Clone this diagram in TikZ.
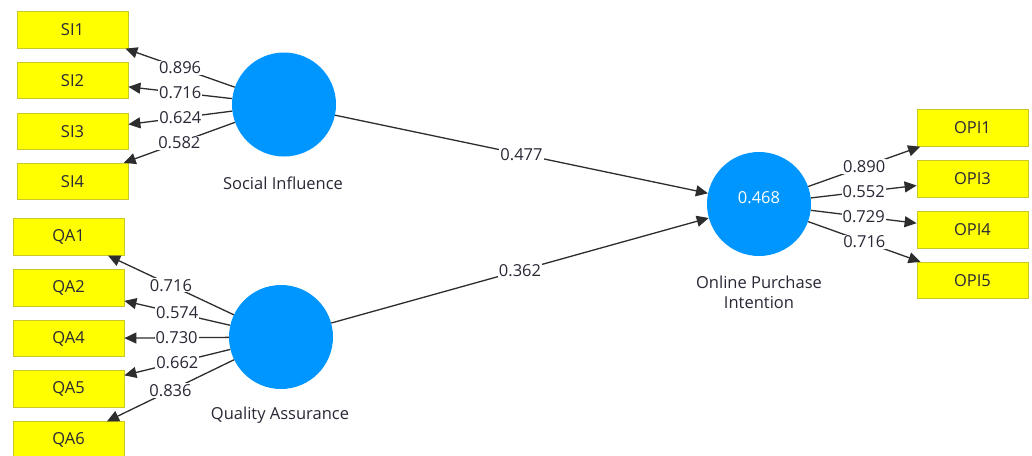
\documentclass[tikz,border=0pt]{standalone}
\usepackage{fontspec}
\setmainfont{Open Sans}
\usetikzlibrary{arrows.meta}
\definecolor{ind}{RGB}{255,255,0}
\definecolor{indborder}{RGB}{200,200,40}
\definecolor{lv}{RGB}{0,150,255}
\definecolor{ln}{RGB}{45,45,45}
\definecolor{txt}{RGB}{40,40,55}
\tikzset{
  indbox/.style={draw=indborder,line width=0.8pt,fill=ind,minimum width=111pt,minimum height=36.5pt,inner sep=0pt,font=\fontsize{16.5}{19}\selectfont,text=txt},
  lvcirc/.style={circle,fill=lv,draw=none,minimum size=104pt,inner sep=0pt},
  lvval/.style={font=\fontsize{16.5}{19}\selectfont,text=white,inner sep=0pt},
  lvlabel/.style={font=\fontsize{16.5}{20}\selectfont,text=txt,align=center},
  conn/.style={draw=ln,line width=1.3pt,-{Triangle[length=12pt,width=11pt]}},
  wt/.style={fill=white,inner sep=1pt,font=\fontsize{16.5}{19}\selectfont,text=txt,pos=0.5}
}
\begin{document}
\begin{tikzpicture}[x=1pt,y=-1pt]
\useasboundingbox[fill=white] (0,0) rectangle (1032,455);
% indicator boxes
\node[indbox] (SI1) at (72.5,30) {SI1};
\node[indbox] (SI2) at (72.5,80.5) {SI2};
\node[indbox] (SI3) at (72.5,131.5) {SI3};
\node[indbox] (SI4) at (72.5,181.5) {SI4};
\node[indbox] (QA1) at (68.5,237) {QA1};
\node[indbox] (QA2) at (68.5,288) {QA2};
\node[indbox] (QA4) at (68.5,338.5) {QA4};
\node[indbox] (QA5) at (68.5,389) {QA5};
\node[indbox] (QA6) at (68.5,440) {QA6};
\node[indbox] (OPI1) at (972.5,128) {OPI1};
\node[indbox] (OPI3) at (972.5,179) {OPI3};
\node[indbox] (OPI4) at (972.5,230) {OPI4};
\node[indbox] (OPI5) at (972.5,280.5) {OPI5};
% latent variables
\node[lvcirc] (SI) at (284,104.5) {};
\node[lvcirc] (QA) at (281,337) {};
\node[lvcirc] (OPI) at (759,204) {};
\node[lvval] (OPIval) at (759,198) {0.468};
\node[lvlabel] (SIlab) at (283,183) {Social Influence};
\node[lvlabel] (QAlab) at (280,415) {Quality Assurance};
\node[lvlabel] (OPIlab) at (759,292) {Online Purchase\\Intention};
% outer loadings
\draw[conn] (SI) -- node[wt] {0.896} (SI1);
\draw[conn] (SI) -- node[wt] {0.716} (SI2);
\draw[conn] (SI) -- node[wt] {0.624} (SI3);
\draw[conn] (SI) -- node[wt] {0.582} (SI4);
\draw[conn] (QA) -- node[wt] {0.716} (QA1);
\draw[conn] (QA) -- node[wt] {0.574} (QA2);
\draw[conn] (QA) -- node[wt] {0.730} (QA4);
\draw[conn] (QA) -- node[wt] {0.662} (QA5);
\draw[conn] (QA) -- node[wt] {0.836} (QA6);
\draw[conn] (OPI) -- node[wt] {0.890} (OPI1);
\draw[conn] (OPI) -- node[wt] {0.552} (OPI3);
\draw[conn] (OPI) -- node[wt] {0.729} (OPI4);
\draw[conn] (OPI) -- node[wt] {0.716} (OPI5);
% path coefficients
\draw[conn] (SI) -- node[wt] {0.477} (OPI);
\draw[conn] (QA) -- node[wt] {0.362} (OPI);
\end{tikzpicture}
\end{document}
